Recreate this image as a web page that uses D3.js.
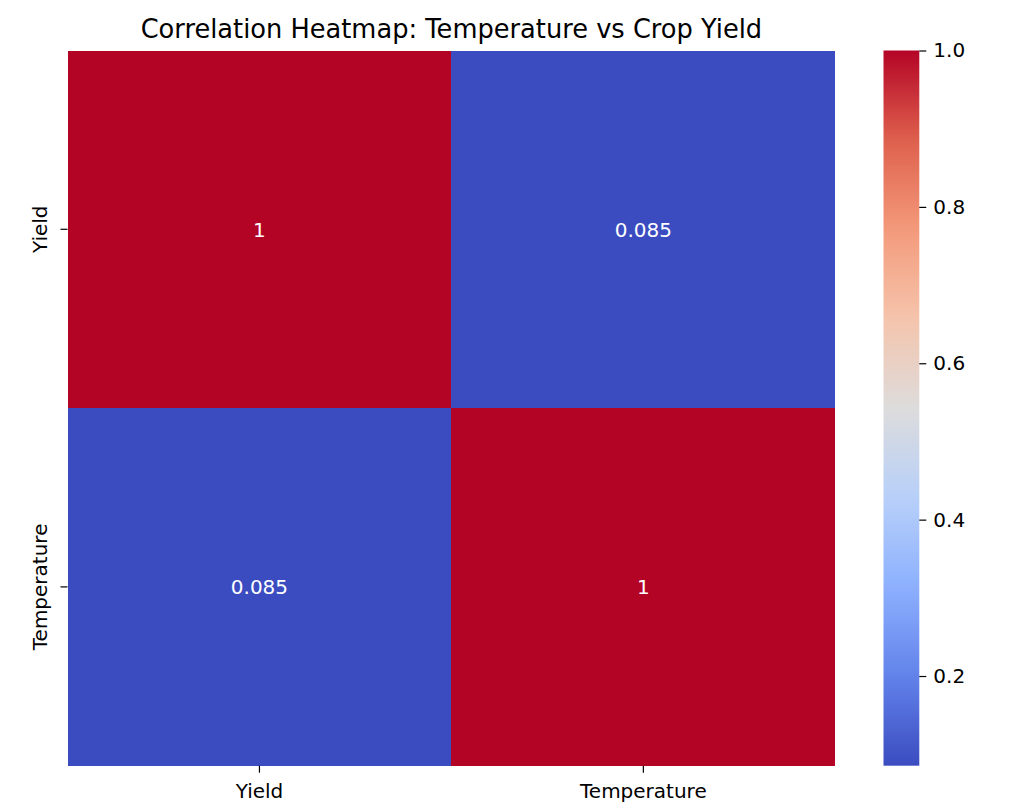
<!DOCTYPE html>
<html>
<head>
<meta charset="utf-8">
<script src="https://cdn.jsdelivr.net/npm/d3@7"></script>
<style>
  body { margin: 0; background: #fff; }
  text { font-family: "DejaVu Sans", sans-serif; }
</style>
</head>
<body>
<script>
// data
var labels = ["Yield", "Temperature"];
var corr = [
  [1, 0.0853],
  [0.0853, 1]
];
var colorTicks = [0.2, 0.4, 0.6, 0.8, 1.0];
var chartTitle = "Correlation Heatmap: Temperature vs Crop Yield";

// matplotlib coolwarm, sampled at 9 even stops
var coolwarm = ["#3b4cc0", "#6282ea", "#8db0fe", "#b8d0f9", "#dddcdc",
                "#f5c4ac", "#f49a7b", "#de604d", "#b40426"];

var width = 1024,
    height = 811,
    plotLeft = 67.5,
    plotRight = 835.3,
    plotTop = 50.5,
    plotBottom = 765.7,
    cbLeft = 883.5,
    cbRight = 919.3;

var vals = d3.merge(corr);
var vmin = d3.min(vals), vmax = d3.max(vals);

var cells = [];
corr.forEach(function(row, i) {
  row.forEach(function(v, j) {
    cells.push({row: labels[i], col: labels[j], value: v});
  });
});

var color = d3.scaleLinear()
    .domain(coolwarm.map(function(c, i) { return vmin + (vmax - vmin) * i / (coolwarm.length - 1); }))
    .range(coolwarm)
    .interpolate(d3.interpolateRgb);

var x = d3.scaleBand().domain(labels).range([plotLeft, plotRight]);
var y = d3.scaleBand().domain(labels).range([plotTop, plotBottom]);

var svg = d3.select("body").append("svg")
    .attr("width", width)
    .attr("height", height);

svg.append("rect").attr("width", width).attr("height", height).attr("fill", "#fff");

svg.selectAll("rect.cell")
    .data(cells)
    .enter().append("rect")
    .attr("class", "cell")
    .attr("x", function(d) { return x(d.col); })
    .attr("y", function(d) { return y(d.row); })
    .attr("width", x.bandwidth())
    .attr("height", y.bandwidth())
    .attr("fill", function(d) { return color(d.value); })
    .attr("shape-rendering", "crispEdges");

var fmt = d3.format(".2~g");
svg.selectAll("text.annot")
    .data(cells)
    .enter().append("text")
    .attr("class", "annot")
    .attr("x", function(d) { return x(d.col) + x.bandwidth() / 2; })
    .attr("y", function(d) { return y(d.row) + y.bandwidth() / 2; })
    .attr("dy", "0.36em")
    .attr("text-anchor", "middle")
    .attr("font-size", "20px")
    .attr("fill", "#fff")
    .text(function(d) { return fmt(d.value); });

// axes
var xAxis = svg.append("g")
    .attr("transform", "translate(0," + plotBottom + ")")
    .call(d3.axisBottom(x).tickSize(7).tickPadding(7));
xAxis.select(".domain").remove();
xAxis.selectAll("text").attr("font-size", "20px").attr("fill", "#000")
    .attr("font-family", "DejaVu Sans").attr("dy", "0.9em");
xAxis.selectAll("line").attr("stroke", "#000").attr("stroke-width", 1.2);

var yAxis = svg.append("g")
    .attr("transform", "translate(" + plotLeft + ",0)")
    .call(d3.axisLeft(y).tickSize(7).tickPadding(7));
yAxis.select(".domain").remove();
yAxis.selectAll("text")
    .attr("font-size", "20px").attr("fill", "#000")
    .attr("font-family", "DejaVu Sans")
    .attr("transform", "rotate(-90)")
    .attr("text-anchor", "middle")
    .attr("x", 0)
    .attr("y", -21)
    .attr("dy", 0);
yAxis.selectAll("line").attr("stroke", "#000").attr("stroke-width", 1.2);

// colorbar
var cbScale = d3.scaleLinear().domain([vmin, vmax]).range([plotBottom, plotTop]);

var grad = svg.append("defs").append("linearGradient")
    .attr("id", "cbgrad")
    .attr("x1", "0").attr("y1", "1").attr("x2", "0").attr("y2", "0");
grad.selectAll("stop")
    .data(d3.range(0, 1.0001, 0.02))
    .enter().append("stop")
    .attr("offset", function(t) { return t; })
    .attr("stop-color", function(t) { return color(vmin + t * (vmax - vmin)); });

svg.append("rect")
    .attr("x", cbLeft)
    .attr("y", plotTop)
    .attr("width", cbRight - cbLeft)
    .attr("height", plotBottom - plotTop)
    .attr("fill", "url(#cbgrad)");

var cbAxis = svg.append("g")
    .attr("transform", "translate(" + cbRight + ",0)")
    .call(d3.axisRight(cbScale).tickValues(colorTicks).tickFormat(d3.format(".1f")).tickSize(7).tickPadding(7));
cbAxis.select(".domain").remove();
cbAxis.selectAll("text").attr("font-size", "20px").attr("fill", "#000")
    .attr("font-family", "DejaVu Sans");
cbAxis.selectAll("line").attr("stroke", "#000").attr("stroke-width", 1.2);

// title
svg.append("text")
    .attr("x", (plotLeft + plotRight) / 2)
    .attr("y", 38)
    .attr("text-anchor", "middle")
    .attr("font-size", "25.7px")
    .attr("fill", "#000")
    .text(chartTitle);
</script>
</body>
</html>
